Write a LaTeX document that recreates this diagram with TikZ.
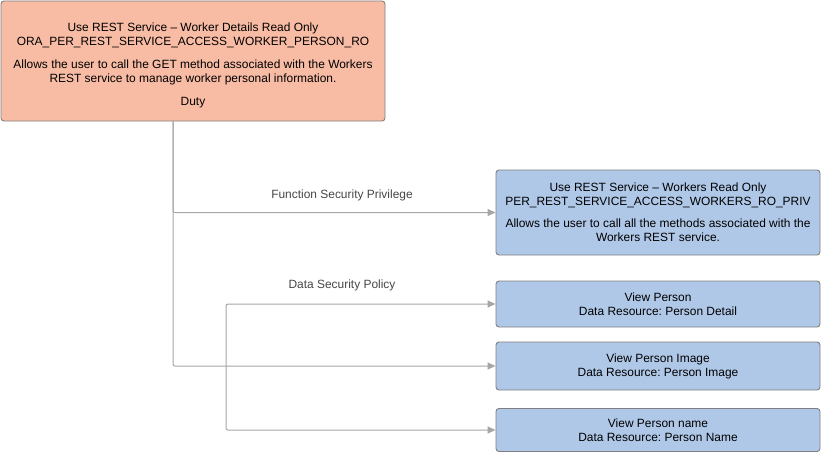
\documentclass[tikz,border=0pt]{standalone}
\usepackage{fontspec}
\setmainfont{Liberation Sans}
\frenchspacing
\usetikzlibrary{arrows.meta}
\definecolor{dutyfill}{RGB}{248,188,165}
\definecolor{privfill}{RGB}{176,200,232}
\definecolor{boxline}{RGB}{128,128,128}
\definecolor{connline}{RGB}{166,166,166}
\definecolor{lbl}{RGB}{70,70,70}
\tikzset{
  box/.style={draw=boxline, line width=0.9pt, rounded corners=3pt, inner sep=0pt, align=center,
    font=\fontsize{11.95}{14}\selectfont, text=black},
  dutybox/.style={box, fill=dutyfill},
  privbox/.style={box, fill=privfill},
  conn/.style={draw=connline, line width=1pt, rounded corners=2pt,
    -{Triangle[length=8pt,width=7pt,fill=connline]}},
  connlabel/.style={font=\fontsize{11.95}{14}\selectfont, text=lbl, inner sep=0pt}
}
\begin{document}
\begin{tikzpicture}[x=1pt,y=-1pt]
\useasboundingbox (0,0) rectangle (821,452);
\node[dutybox, minimum width=384pt, minimum height=120pt] (duty) at (193,61)
  {\rule{0pt}{17.5pt}Use REST Service -- Worker Details Read Only\\ORA\_PER\_REST\_SERVICE\_ACCESS\_WORKER\_PERSON\_RO\\[9pt]
   Allows the user to call the GET method associated with the Workers\\REST service to manage worker personal information.\\[9pt]Duty};
\node[privbox, minimum width=324pt, minimum height=85pt] (priv) at (658,212.5)
  {Use REST Service -- Workers Read Only\\PER\_REST\_SERVICE\_ACCESS\_WORKERS\_RO\_PRIV\\[8pt]
   Allows the user to call all the methods associated with the\\Workers REST service.};
\node[privbox, minimum width=324pt, minimum height=46pt] (vp) at (658,304)
  {View Person\\Data Resource: Person Detail};
\node[privbox, minimum width=324pt, minimum height=48pt] (vpi) at (658,366)
  {View Person Image\\Data Resource: Person Image};
\node[privbox, minimum width=324pt, minimum height=43pt] (vpn) at (658,430)
  {View Person name\\Data Resource: Person Name};
\coordinate (fsp) at (173,121);
\coordinate (dsp) at (226,430);
\draw[conn] (fsp) |- (vpi.west);
\draw[conn] (fsp) |- (priv.west);
\draw[conn, {Triangle[length=8pt,width=7pt,fill=connline]}-{Triangle[length=8pt,width=7pt,fill=connline]}] (vp.west) -| (dsp) -- (vpn.west);
\node[connlabel] (fsplabel) at (342,195) {Function Security Privilege};
\node[connlabel] (dsplabel) at (342,285) {Data Security Policy};
\end{tikzpicture}
\end{document}
